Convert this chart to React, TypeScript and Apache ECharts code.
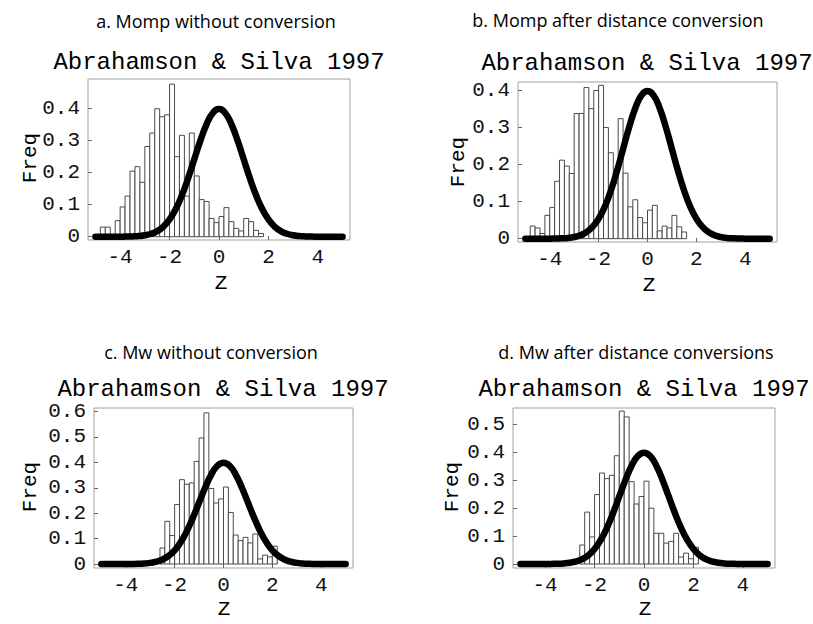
import React, { useEffect, useRef } from "react";
import * as echarts from "echarts";

// ---------- data ----------
const BIN_WIDTH = 0.2;
const zTicks = [-4, -2, 0, 2, 4];

const aTitle = "a. Momp without conversion";
const aFirstBin = -4.8;
const aFreq = [0.03, 0.03, 0, 0.05, 0.093, 0.127, 0.205, 0.219, 0.17, 0.282, 0.324, 0.4, 0.375, 0.381, 0.477, 0.25, 0.317, 0.127, 0.324, 0.19, 0.116, 0.11, 0.057, 0.044, 0.063, 0.091, 0.047, 0.026, 0.018, 0.057, 0.047, 0.02, 0.01];
const aTicks = [0, 0.1, 0.2, 0.3, 0.4];

const bTitle = "b. Momp after distance conversion";
const bFirstBin = -4.8;
const bFreq = [0.034, 0.029, 0.014, 0.063, 0.084, 0.155, 0.212, 0.196, 0.176, 0.338, 0.338, 0.408, 0.351, 0.4, 0.414, 0.3, 0.232, 0.15, 0.324, 0.177, 0.086, 0.105, 0.057, 0.043, 0.077, 0.09, 0.021, 0.034, 0.029, 0.063, 0.032, 0.018];
const bTicks = [0, 0.1, 0.2, 0.3, 0.4];

const cTitle = "c. Mw without conversion";
const cFirstBin = -2.6;
const cFreq = [0.063, 0.168, 0.112, 0.234, 0.332, 0.314, 0.319, 0.404, 0.496, 0.595, 0.297, 0.24, 0.256, 0.303, 0.203, 0.114, 0.092, 0.105, 0.083, 0.118, 0.02, 0.035, 0.028, 0.07];
const cTicks = [0, 0.1, 0.2, 0.3, 0.4, 0.5, 0.6];

const dTitle = "d. Mw after distance conversions";
const dFirstBin = -2.6;
const dFreq = [0.068, 0.186, 0.097, 0.249, 0.326, 0.306, 0.318, 0.388, 0.548, 0.527, 0.295, 0.215, 0.242, 0.297, 0.2, 0.11, 0.11, 0.075, 0.081, 0.11, 0.025, 0.039, 0.019, 0.06];
const dTicks = [0, 0.1, 0.2, 0.3, 0.4, 0.5];

const subtitle = "Abrahamson & Silva 1997";
const yName = "Freq";
const xName = "Z";

// reference normal curve
const curveZ = [-5, -4.75, -4.5, -4.25, -4, -3.75, -3.5, -3.25, -3, -2.75, -2.5, -2.25, -2, -1.75, -1.5, -1.25, -1, -0.75, -0.5, -0.25, 0, 0.25, 0.5, 0.75, 1, 1.25, 1.5, 1.75, 2, 2.25, 2.5, 2.75, 3, 3.25, 3.5, 3.75, 4, 4.25, 4.5, 4.75, 5];
const curveFreq = [0, 0, 0, 0, 0.0001, 0.0004, 0.0009, 0.002, 0.0044, 0.0091, 0.0175, 0.0317, 0.054, 0.0863, 0.1295, 0.1826, 0.242, 0.3011, 0.3521, 0.3867, 0.3989, 0.3867, 0.3521, 0.3011, 0.242, 0.1826, 0.1295, 0.0863, 0.054, 0.0317, 0.0175, 0.0091, 0.0044, 0.002, 0.0009, 0.0004, 0.0001, 0, 0, 0, 0];

// ---------- layout (positions / styles) ----------
const layouts = [
  { grid: { left: 88, top: 79, width: 262, height: 161 }, yMin: -0.0103, yMax: 0.493, title: [216, 21], sub: [219, 62], freq: [30, 158], z: [221, 283] },
  { grid: { left: 518, top: 82, width: 259, height: 160 }, yMin: -0.009, yMax: 0.423, title: [618, 20], sub: [647, 63], freq: [458, 162], z: [649, 285] },
  { grid: { left: 94, top: 408, width: 259, height: 160 }, yMin: -0.0157, yMax: 0.614, title: [211, 352], sub: [223, 389], freq: [30, 487], z: [224, 609] },
  { grid: { left: 513, top: 408, width: 262, height: 160 }, yMin: -0.0143, yMax: 0.559, title: [636, 352], sub: [644, 389], freq: [452, 487], z: [645, 609] },
];

const MONO = "'Courier New', 'Liberation Mono', monospace";
const SANS = "'Open Sans', 'Noto Sans', sans-serif";

function bins(first: number, freq: number[]) {
  return freq.map((f, i) => {
    const left = +(first + i * BIN_WIDTH).toFixed(2);
    return [left, +(left + BIN_WIDTH).toFixed(2), f];
  });
}

function text(x: number, y: number, t: string, size: number, family: string, rotation = 0) {
  return {
    type: "text",
    x,
    y,
    rotation,
    silent: true,
    style: {
      text: t,
      fontSize: size,
      fontFamily: family,
      fill: "#000",
      align: "center",
      verticalAlign: "middle",
      textAlign: "center",
      textVerticalAlign: "middle",
    },
  };
}

export default function App() {
  const ref = useRef<HTMLDivElement>(null);

  useEffect(() => {
    document.body.style.margin = "0";
    if (!ref.current) return;
    const chart = echarts.init(ref.current, undefined, { renderer: "svg" });

    const panels = [
      { title: aTitle, bins: bins(aFirstBin, aFreq), ticks: aTicks },
      { title: bTitle, bins: bins(bFirstBin, bFreq), ticks: bTicks },
      { title: cTitle, bins: bins(cFirstBin, cFreq), ticks: cTicks },
      { title: dTitle, bins: bins(dFirstBin, dFreq), ticks: dTicks },
    ];
    const curve = curveZ.map((z, i) => [z, curveFreq[i]]);

    const grids: any[] = [];
    const xAxes: any[] = [];
    const yAxes: any[] = [];
    const series: any[] = [];
    const graphics: any[] = [];

    panels.forEach((p, i) => {
      const L = layouts[i];
      grids.push({
        ...L.grid,
        show: true,
        borderColor: "#a0a0a0",
        borderWidth: 1,
        backgroundColor: "transparent",
        containLabel: false,
        outerBoundsMode: "none",
      });
      xAxes.push({
        type: "value",
        gridIndex: i,
        position: "bottom",
        min: -5.3,
        max: 5.3,
        splitLine: { show: false },
        axisLine: { show: false, onZero: false },
        axisTick: { show: true, inside: true, length: 4, customValues: zTicks, lineStyle: { color: "#666" } },
        axisLabel: {
          customValues: zTicks,
          margin: 7,
          fontSize: 21,
          fontFamily: MONO,
          color: "#111",
          formatter: (v: number) => (v < 0 ? "-" + Math.abs(v) : String(v)),
        },
      });
      yAxes.push({
        type: "value",
        gridIndex: i,
        position: "left",
        min: L.yMin,
        max: L.yMax,
        splitLine: { show: false },
        axisLine: { show: false, onZero: false },
        axisTick: { show: true, inside: true, length: 4, customValues: p.ticks, lineStyle: { color: "#666" } },
        axisLabel: {
          customValues: p.ticks,
          margin: 8,
          fontSize: 21,
          fontFamily: MONO,
          color: "#111",
          formatter: (v: number) => (v === 0 ? "0" : v.toFixed(1)),
        },
      });
      series.push({
        type: "custom",
        xAxisIndex: i,
        yAxisIndex: i,
        data: p.bins,
        z: 2,
        renderItem: (_params: any, api: any) => {
          const p0 = api.coord([api.value(0), 0]);
          const p1 = api.coord([api.value(1), api.value(2)]);
          return {
            type: "rect",
            shape: { x: p0[0], y: p1[1], width: p1[0] - p0[0], height: p0[1] - p1[1] },
            style: { fill: "#ffffff", stroke: "#4a4a4a", lineWidth: 1 },
          };
        },
      });
      series.push({
        type: "line",
        xAxisIndex: i,
        yAxisIndex: i,
        data: curve,
        smooth: true,
        showSymbol: false,
        silent: true,
        z: 3,
        lineStyle: { color: "#000", width: 6.5, cap: "round", join: "round" },
      });
      graphics.push(text(L.title[0], L.title[1], p.title, 18, SANS));
      graphics.push(text(L.sub[0], L.sub[1], subtitle, 24, MONO));
      graphics.push(text(L.freq[0], L.freq[1], yName, 21, MONO, Math.PI / 2));
      graphics.push(text(L.z[0], L.z[1], xName, 21, MONO));
    });

    chart.setOption({
      animation: false,
      backgroundColor: "#ffffff",
      grid: grids,
      xAxis: xAxes,
      yAxis: yAxes,
      series,
      graphic: graphics,
    });

    return () => chart.dispose();
  }, []);

  return <div ref={ref} style={{ width: 813, height: 624 }} />;
}
